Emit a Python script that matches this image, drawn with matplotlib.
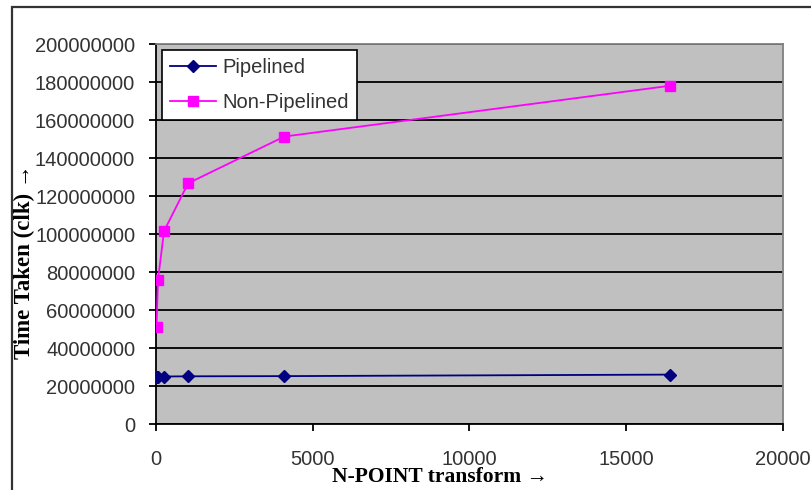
import matplotlib.pyplot as plt
from matplotlib.patches import Rectangle

# N-point transform sizes and clock counts
n_points = [16, 64, 256, 1024, 4096, 16384]
pipelined = [25000000, 25000000, 25000000, 25100000, 25200000, 26000000]
non_pipelined = [51000000, 76000000, 101500000, 126700000, 151300000, 178000000]

y_ticks = list(range(0, 200000001, 20000000))
x_ticks = [0, 5000, 10000, 15000, 20000]

W, H = 812, 490
fig = plt.figure(figsize=(W / 100, H / 100), dpi=100)
fig.patch.set_facecolor("white")

# outer chart-area frame (clipped on right / bottom like the source)
fig.patches.append(Rectangle((12 / W, -0.1), 1.2, 1 - 7 / H + 0.1,
                             transform=fig.transFigure, fill=False,
                             edgecolor="#333333", linewidth=1.6))

ax = fig.add_axes([156 / W, 1 - 424 / H, (783 - 156) / W, (424 - 44) / H])
ax.set_facecolor("#c0c0c0")

ax.plot(n_points, pipelined, color="#000080", marker="D", markersize=6,
        linewidth=1.3, label="Pipelined", zorder=3)
ax.plot(n_points, non_pipelined, color="#ff00ff", marker="s", markersize=6.5,
        linewidth=1.3, label="Non-Pipelined", zorder=3)

ax.set_xlim(0, 20000)
ax.set_ylim(0, 200000000)
ax.set_xticks(x_ticks)
ax.set_yticks(y_ticks)
ax.set_xticklabels([str(v) for v in x_ticks])
ax.set_yticklabels([str(v) for v in y_ticks])

for lab in ax.get_xticklabels() + ax.get_yticklabels():
    lab.set_fontfamily("Liberation Sans")
    lab.set_fontsize(14.5)
    lab.set_color("#333333")
ax.tick_params(axis="both", direction="out", length=5, width=1.3, color="black")
ax.tick_params(axis="y", pad=10)
ax.tick_params(axis="x", pad=14)

ax.yaxis.grid(True, color="black", linewidth=1.3)
ax.set_axisbelow(True)
for side in ["left", "bottom"]:
    ax.spines[side].set_color("black")
    ax.spines[side].set_linewidth(1.3)
for side in ["top", "right"]:
    ax.spines[side].set_color("#808080")
    ax.spines[side].set_linewidth(1.3)

leg = ax.legend(loc="upper left", bbox_to_anchor=(162 / W, 1 - 50 / H),
                bbox_transform=fig.transFigure, borderaxespad=0,
                prop=dict(family="Liberation Sans", size=14.5),
                frameon=True, fancybox=False, framealpha=1,
                edgecolor="black", handlelength=2.3, handletextpad=0.3,
                labelspacing=0.8, borderpad=0.4)
leg.get_frame().set_linewidth(1.2)
for t in leg.get_texts():
    t.set_color("#333333")

fig.text(440 / W, 1 - 477 / H, "N-POINT transform \u2192", ha="center",
         va="center", family=["Liberation Serif", "DejaVu Serif"],
         size=15.5, weight="bold")
fig.text(24 / W, 1 - 262 / H, "Time Taken (clk) \u2192", ha="center",
         va="center", rotation=90, family=["Liberation Serif", "DejaVu Serif"],
         size=16.5, weight="bold")

fig.savefig("out.png", dpi=100)
